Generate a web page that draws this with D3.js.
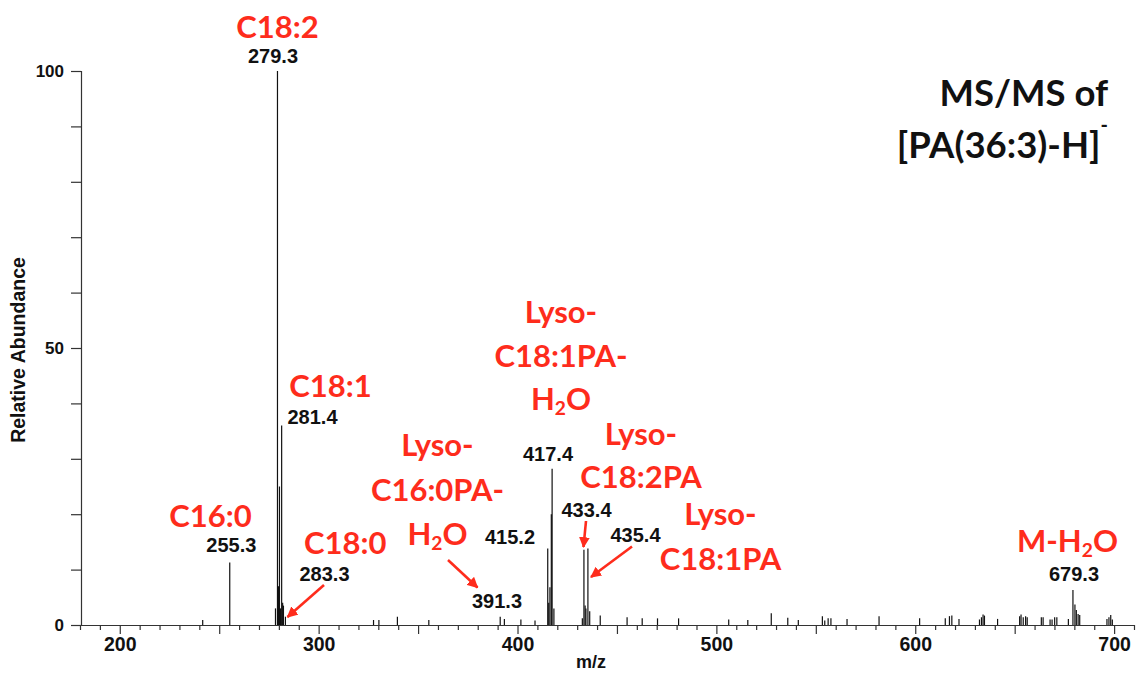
<!DOCTYPE html>
<html>
<head>
<meta charset="utf-8">
<script src="https://cdn.jsdelivr.net/npm/d3@7"></script>
<style>
  html, body { margin: 0; padding: 0; background: #fff; }
  svg { display: block; }
</style>
</head>
<body>
<svg id="chart" width="1138" height="673"></svg>
<script>
// ---------- DATA ----------
const mzValues = [241.7, 255.3, 278.3, 279.3, 279.8, 280.3, 280.8, 281.4, 281.9, 282.3, 283.3,
  327.6, 330.3, 339.6, 355.4, 391.3, 393.4, 401.7, 408.8,
  415.2, 415.7, 416.3, 417.0, 417.4, 418.3,
  432.6, 433.4, 434.0, 434.4, 435.4, 436.3, 441.6,
  455.1, 462.7, 470.4, 481.0, 506.2, 515.8, 527.6, 535.9, 541.2,
  553.3, 554.5, 556.2, 557.6, 565.7, 581.8, 602.2, 615.1, 617.2, 618.4, 622.0,
  632.3, 633.3, 634.1, 634.8, 641.4, 652.5, 653.2, 654.3, 655.5, 656.3,
  663.4, 664.3, 667.8, 668.8, 670.1, 671.2, 677.0,
  679.3, 680.3, 681.0, 681.9, 682.7, 696.4, 697.4, 698.3, 699.1];
const intensities = [0.9, 11.3, 3.0, 100, 7.0, 25.0, 3.0, 36.0, 4.0, 3.5, 1.5,
  0.9, 0.9, 1.5, 0.9, 1.5, 1.1, 1.0, 0.8,
  13.8, 4.0, 6.8, 20.0, 28.2, 3.0,
  1.2, 13.6, 3.5, 3.0, 13.8, 2.5, 1.7,
  1.4, 1.2, 1.2, 1.2, 1.0, 0.9, 2.1, 1.3, 0.9,
  1.6, 0.8, 1.2, 1.2, 1.1, 1.6, 1.2, 1.2, 1.6, 1.7, 1.1,
  1.0, 1.4, 1.9, 1.7, 1.1, 1.6, 1.9, 1.4, 1.6, 1.4,
  1.4, 1.4, 1.0, 1.0, 1.4, 1.4, 1.1,
  6.3, 3.7, 2.7, 2.0, 1.8, 1.1, 1.4, 1.8, 1.0];

const xTickValues = d3.range(180, 711, 10);
const xLabelTicks = [200, 300, 400, 500, 600, 700];
const yTickValues = d3.range(0, 101, 10);
const yLabelTicks = [0, 50, 100];

const peakLabels = ["279.3", "281.4", "255.3", "283.3", "391.3", "415.2", "417.4", "433.4", "435.4", "679.3"];
const assignmentLines = [
  ["C18:2"], ["C18:1"], ["C16:0"], ["C18:0"],
  ["Lyso-", "C16:0PA-", "H2O"],
  ["Lyso-", "C18:1PA-", "H2O"],
  ["Lyso-", "C18:2PA"],
  ["Lyso-", "C18:1PA"],
  ["M-H2O"]
];
const titleLines = ["MS/MS of", "[PA(36:3)-H]"];

// ---------- LAYOUT ----------
const RED = "#fe2c1c";
const svg = d3.select("#chart");
const x = d3.scaleLinear().domain([180, 710]).range([80, 1134]);
const y = d3.scaleLinear().domain([0, 100]).range([625, 71]);

// peak-label positions (center x, baseline y)
const peakLabelPos = [[273, 62.5], [312.5, 424], [231.3, 551.7], [324.5, 580.7], [497, 608.3],
  [510, 544], [548, 460.7], [586.5, 517.3], [635.5, 541.7], [1074, 580.7]];
// assignment positions: center x, first baseline, line step
const assignPos = [[277.5, 37.5, 0], [330.5, 397, 0], [210.5, 527, 0], [345.3, 554, 0],
  [437.5, 456, 44.5], [561, 323, 43.5], [641, 445, 42.5], [720.5, 525, 45], [1067.5, 552, 0]];
const arrows = [
  [324, 585, 287.5, 617],
  [448, 560, 477.5, 587.5],
  [586, 521, 583.5, 547],
  [632, 546.5, 591, 577]
];

// ---------- AXES ----------
const gx = svg.append("g").attr("transform", `translate(0,${y(0)})`);
gx.call(d3.axisBottom(x).tickValues(xTickValues).tickSize(5).tickFormat(""));
gx.call(g => g.selectAll(".tick line").attr("y2", d => d % 50 === 0 ? 9 : 5));
gx.selectAll(".tick text").remove();
gx.select(".domain").attr("d", `M${x(180)},0.5H${x(710)}`);
const gxl = svg.append("g").attr("transform", `translate(0,${y(0)})`);
gxl.call(d3.axisBottom(x).tickValues(xLabelTicks).tickSize(0).tickPadding(12).tickFormat(d3.format("d")));
gxl.select(".domain").remove();
gxl.selectAll("text").attr("font-family", "'Liberation Sans', Arial, sans-serif")
  .attr("font-weight", "bold").attr("font-size", 19.5).attr("fill", "#111");

const gy = svg.append("g").attr("transform", `translate(${x(180) + 1},0)`);
gy.call(d3.axisLeft(y).tickValues(yTickValues).tickSize(10).tickPadding(7)
  .tickFormat(d => yLabelTicks.includes(d) ? d : ""));
gy.selectAll("text").attr("font-family", "'Liberation Sans', Arial, sans-serif")
  .attr("font-weight", "bold").attr("font-size", 17).attr("fill", "#111");
svg.selectAll(".domain, .tick line").attr("stroke", "#333").attr("stroke-width", 1.2);

// ---------- PEAKS ----------
svg.append("g").selectAll("line").data(mzValues).join("line")
  .attr("x1", d => x(d)).attr("x2", d => x(d))
  .attr("y1", y(0)).attr("y2", (d, i) => y(intensities[i]))
  .attr("stroke", "#111").attr("stroke-width", 1.2);

// ---------- AXIS TITLES ----------
svg.append("text").attr("x", 591).attr("y", 668).attr("text-anchor", "middle")
  .attr("font-family", "'Liberation Sans', Arial, sans-serif").attr("font-weight", "bold")
  .attr("font-size", 18).attr("fill", "#111").text("m/z");
svg.append("text").attr("transform", "translate(25,350) rotate(-90)").attr("text-anchor", "middle")
  .attr("font-family", "'Liberation Sans', Arial, sans-serif").attr("font-weight", "bold")
  .attr("font-size", 19.5).attr("fill", "#111").text("Relative Abundance");

// ---------- PEAK LABELS ----------
svg.append("g").selectAll("text").data(peakLabels).join("text")
  .attr("x", (d, i) => peakLabelPos[i][0]).attr("y", (d, i) => peakLabelPos[i][1])
  .attr("text-anchor", "middle")
  .attr("font-family", "'Liberation Sans', Arial, sans-serif").attr("font-weight", "bold")
  .attr("font-size", 20).attr("fill", "#111").text(d => d);

// ---------- ASSIGNMENTS ----------
function writeChem(sel, str) {
  if (str.includes("H2O")) {
    const idx = str.indexOf("H2O");
    sel.append("tspan").text(str.slice(0, idx + 1));
    sel.append("tspan").attr("font-size", "0.62em").attr("dy", "0.28em").text("2");
    sel.append("tspan").attr("dy", "-0.17em").text(str.slice(idx + 2));
  } else {
    sel.text(str);
  }
}
assignmentLines.forEach((lines, k) => {
  const [cx, by, step] = assignPos[k];
  lines.forEach((ln, j) => {
    const t = svg.append("text").attr("x", cx).attr("y", by + j * step)
      .attr("text-anchor", "middle")
      .attr("font-family", "Lato, 'Open Sans', sans-serif").attr("font-weight", "bold")
      .attr("font-size", 31).attr("fill", RED);
    writeChem(t, ln);
  });
});

// ---------- ARROWS ----------
svg.append("defs").append("marker").attr("id", "ah").attr("viewBox", "0 0 10 10")
  .attr("refX", 9).attr("refY", 5).attr("markerWidth", 4.2).attr("markerHeight", 4.2)
  .attr("orient", "auto").append("path").attr("d", "M0,0L10,5L0,10z").attr("fill", RED);
svg.append("g").selectAll("line").data(arrows).join("line")
  .attr("x1", d => d[0]).attr("y1", d => d[1]).attr("x2", d => d[2]).attr("y2", d => d[3])
  .attr("stroke", RED).attr("stroke-width", 2.6).attr("marker-end", "url(#ah)");

// ---------- TITLE ----------
const title = svg.append("g").attr("font-family", "Lato, 'Open Sans', sans-serif")
  .attr("font-weight", "bold").attr("font-size", 36.5).attr("fill", "#111");
title.append("text").attr("x", 1108).attr("y", 106).attr("text-anchor", "end").text(titleLines[0]);
const t2 = title.append("text").attr("x", 1108).attr("y", 158).attr("text-anchor", "end");
t2.append("tspan").text(titleLines[1]);
t2.append("tspan").attr("font-size", 20).attr("dy", -26).text("-");
</script>
</body>
</html>
